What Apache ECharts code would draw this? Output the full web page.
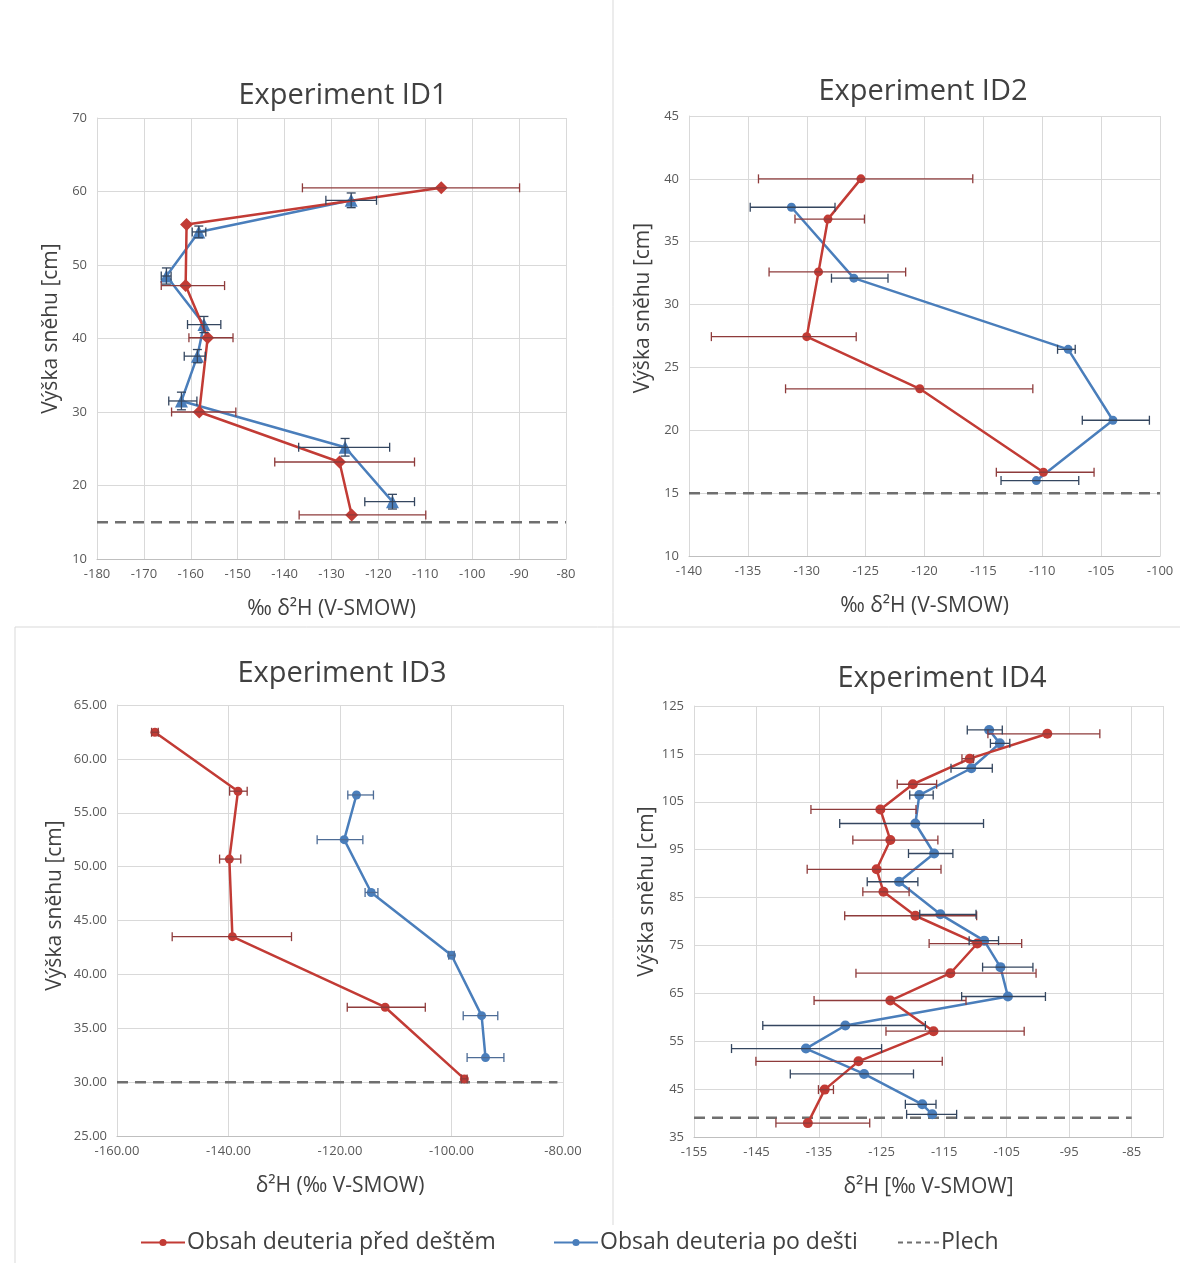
<!DOCTYPE html>
<html><head><meta charset="utf-8">
<script src="https://cdn.jsdelivr.net/npm/echarts@6/dist/echarts.min.js"></script>
<style>html,body{margin:0;padding:0;background:#fff}#c{width:1180px;height:1263px}</style>
</head><body><div id="c"></div><script>
const NAME_BEFORE = 'Obsah deuteria před deštěm';
const NAME_AFTER = 'Obsah deuteria po dešti';
const NAME_PLECH = 'Plech';
const TITLES = ['Experiment ID1', 'Experiment ID2', 'Experiment ID3', 'Experiment ID4'];
const X_NAMES = ['‰ δ²H (V-SMOW)', '‰ δ²H (V-SMOW)', 'δ²H (‰ V-SMOW)', 'δ²H [‰ V-SMOW]'];
const Y_NAME = 'Výška sněhu [cm]';

// Experiment ID1  (error bars given as low / high ends of the bar, null = none)
const id1BeforeX = [-106.6, -160.9, -161.1, -156.4, -158.2, -128.3, -125.7];
const id1BeforeY = [60.5, 55.5, 47.2, 40.1, 30.0, 23.2, 16.0];
const id1BeforeLo = [-136.2, null, -166.3, -160.4, -164.1, -142.1, -136.9];
const id1BeforeHi = [-89.9, null, -152.8, -151.0, -150.4, -112.3, -109.9];
const id1AfterX = [-125.8, -158.3, -165.2, -157.2, -158.6, -162.0, -127.1, -117.0];
const id1AfterY = [58.8, 54.5, 48.5, 41.9, 37.6, 31.5, 25.2, 17.8];
const id1AfterLo = [-131.2, -159.7, -166.3, -160.7, -161.4, -164.7, -137.0, -122.9];
const id1AfterHi = [-120.4, -156.8, -164.2, -153.6, -156.9, -158.7, -117.6, -112.3];
const id1AfterErrY = [1.0, 0.8, 1.1, 1.1, 0.9, 1.2, 1.2, 1.0];
const id1Plech = 15;
const id1XRange = [-180, -80];

// Experiment ID2
const id2BeforeX = [-125.4, -128.2, -129.0, -130.0, -120.4, -109.9];
const id2BeforeY = [40.0, 36.8, 32.6, 27.45, 23.3, 16.66];
const id2BeforeLo = [-134.1, -131.0, -133.2, -138.1, -131.8, -113.9];
const id2BeforeHi = [-115.9, -125.1, -121.6, -125.8, -110.8, -105.6];
const id2AfterX = [-131.3, -126.0, -107.8, -104.0, -110.5];
const id2AfterY = [37.74, 32.1, 26.44, 20.8, 16.0];
const id2AfterLo = [-134.8, -127.9, -108.7, -106.6, -113.5];
const id2AfterHi = [-127.6, -123.1, -107.2, -100.9, -106.9];
const id2Plech = 15;
const id2XRange = [-140, -100];

// Experiment ID3
const id3BeforeX = [-153.2, -138.3, -139.85, -139.3, -111.9, -97.7];
const id3BeforeY = [62.47, 57.0, 50.7, 43.5, 36.95, 30.3];
const id3BeforeLo = [-153.8, -139.8, -141.6, -150.1, -118.7, -98.2];
const id3BeforeHi = [-152.6, -136.65, -137.8, -128.7, -104.7, -97.2];
const id3AfterX = [-117.05, -119.25, -114.4, -100.0, -94.6, -93.9];
const id3AfterY = [56.65, 52.5, 47.6, 41.77, 36.17, 32.28];
const id3AfterLo = [-118.6, -124.1, -115.5, -100.5, -97.9, -97.2];
const id3AfterHi = [-114.0, -115.9, -113.2, -99.5, -91.7, -90.6];
const id3Plech = 30;
const id3XRange = [-160, -81];

// Experiment ID4
const id4BeforeX = [-98.5, -110.9, -120.0, -125.2, -123.6, -125.8, -124.7, -119.6, -109.7, -114.0, -123.6, -116.7, -128.7, -134.1, -136.8];
const id4BeforeY = [119.2, 114.0, 108.66, 103.4, 97.0, 90.9, 86.2, 81.2, 75.4, 69.2, 63.5, 57.1, 50.8, 44.9, 37.9];
const id4BeforeLo = [-108.0, -112.15, -122.5, -136.3, -129.6, -136.9, -128.0, -130.9, -117.4, -129.1, -135.8, -124.3, -145.1, -135.1, -141.9];
const id4BeforeHi = [-90.1, -110.3, -116.2, -119.5, -116.0, -115.5, -120.6, -109.8, -102.6, -100.3, -111.5, -102.2, -115.3, -132.7, -126.9];
const id4AfterX = [-107.8, -106.1, -110.65, -118.97, -119.6, -116.6, -122.2, -115.6, -108.6, -106.0, -104.8, -130.8, -137.1, -127.8, -118.5, -116.9];
const id4AfterY = [120.0, 117.2, 112.0, 106.4, 100.46, 94.2, 88.3, 81.5, 76.0, 70.47, 64.34, 58.28, 53.47, 48.17, 41.83, 39.74];
const id4AfterLo = [-111.3, -107.6, -113.9, -120.5, -131.7, -120.7, -127.3, -118.9, -111.0, -108.85, -112.2, -144.0, -149.0, -139.6, -121.2, -121.0];
const id4AfterHi = [-105.7, -104.5, -107.3, -116.75, -108.7, -113.6, -119.2, -109.9, -106.3, -100.8, -98.8, -118.0, -125.0, -119.9, -116.3, -113.0];
const id4Plech = 39;
const id4XRange = [-155, -85];

// axis scales: [min, max, interval]
const xScales = [[-180, -80, 10], [-140, -100, 5], [-160, -80, 20], [-155, -80, 10]];
const yScales = [[10, 70, 10], [10, 45, 5], [25, 65, 5], [35, 125, 10]];
const labelDecimals = [0, 0, 2, 0];

const RED = '#c23b35', BLUE = '#4a7ebb', RED_ERR = '#8e3b3b', BLUE_ERR = '#34465f', BLUE_ERR3 = '#4d6c96';
const FONT = 'Open Sans';

const grids = [
  {left: 97, top: 118, width: 469, height: 441},
  {left: 689, top: 116, width: 471, height: 440},
  {left: 117, top: 705, width: 446, height: 431},
  {left: 694, top: 706, width: 469, height: 431}
];
const titlePos = [[338, 76], [918, 72], [337, 654], [937, 659]];
const yNameShift = [20, 56, 30, 60];

const zip = (xs, ys) => xs.map((x, i) => [x, ys[i]]);
const zipErr = (xs, ys, lo, hi, ey) => xs.map((x, i) => [x, ys[i], lo[i] == null ? x : lo[i], hi[i] == null ? x : hi[i], ey ? ey[i] : 0]);

function errorBarRender(params, api) {
  const x = api.value(0), y = api.value(1), lo = api.value(2), hi = api.value(3), ey = api.value(4);
  const color = api.visual('color');
  const cap = 4.5;
  const style = {stroke: color, lineWidth: 1.3};
  const ch = [];
  if (hi > lo) {
    const a = api.coord([lo, y]), b = api.coord([hi, y]);
    ch.push({type: 'line', shape: {x1: a[0], y1: a[1], x2: b[0], y2: b[1]}, style});
    ch.push({type: 'line', shape: {x1: a[0], y1: a[1] - cap, x2: a[0], y2: a[1] + cap}, style});
    ch.push({type: 'line', shape: {x1: b[0], y1: b[1] - cap, x2: b[0], y2: b[1] + cap}, style});
  }
  if (ey > 0) {
    const a = api.coord([x, y - ey]), b = api.coord([x, y + ey]);
    ch.push({type: 'line', shape: {x1: a[0], y1: a[1], x2: b[0], y2: b[1]}, style});
    ch.push({type: 'line', shape: {x1: a[0] - cap, y1: a[1], x2: a[0] + cap, y2: a[1]}, style});
    ch.push({type: 'line', shape: {x1: b[0] - cap, y1: b[1], x2: b[0] + cap, y2: b[1]}, style});
  }
  return {type: 'group', children: ch};
}

const panels = [
  {bx: id1BeforeX, by: id1BeforeY, blo: id1BeforeLo, bhi: id1BeforeHi, ax: id1AfterX, ay: id1AfterY, alo: id1AfterLo, ahi: id1AfterHi, aey: id1AfterErrY, plech: id1Plech, pr: id1XRange, bs: 'diamond', as: 'triangle', size: 13, berr: RED_ERR, aerr: BLUE_ERR},
  {bx: id2BeforeX, by: id2BeforeY, blo: id2BeforeLo, bhi: id2BeforeHi, ax: id2AfterX, ay: id2AfterY, alo: id2AfterLo, ahi: id2AfterHi, plech: id2Plech, pr: id2XRange, bs: 'circle', as: 'circle', size: 9, berr: RED_ERR, aerr: BLUE_ERR},
  {bx: id3BeforeX, by: id3BeforeY, blo: id3BeforeLo, bhi: id3BeforeHi, ax: id3AfterX, ay: id3AfterY, alo: id3AfterLo, ahi: id3AfterHi, plech: id3Plech, pr: id3XRange, bs: 'circle', as: 'circle', size: 9, berr: RED_ERR, aerr: BLUE_ERR3},
  {bx: id4BeforeX, by: id4BeforeY, blo: id4BeforeLo, bhi: id4BeforeHi, ax: id4AfterX, ay: id4AfterY, alo: id4AfterLo, ahi: id4AfterHi, plech: id4Plech, pr: id4XRange, bs: 'circle', as: 'circle', size: 10, berr: RED_ERR, aerr: BLUE_ERR}
];

const xAxes = [], yAxes = [], series = [], titles = [];
const order = [1, 2, 3, 0]; // panel 1 last so legend icons show circles
panels.forEach((p, i) => {
  const dec = labelDecimals[i];
  xAxes.push({
    type: 'value', gridIndex: i, min: xScales[i][0], max: xScales[i][1], interval: xScales[i][2],
    name: X_NAMES[i], nameLocation: 'middle', nameGap: 40,
    nameTextStyle: {fontSize: 21, color: '#404040', fontFamily: FONT},
    axisLine: {show: true, onZero: false, lineStyle: {color: '#bfbfbf', width: 1}},
    axisTick: {show: false},
    axisLabel: {color: '#595959', fontSize: 13, fontFamily: FONT, margin: 9, showMaxLabel: i !== 3,
      formatter: v => v.toFixed(dec)},
    splitLine: {show: true, lineStyle: {color: '#d9d9d9', width: 1}}
  });
  yAxes.push({
    type: 'value', gridIndex: i, min: yScales[i][0], max: yScales[i][1], interval: yScales[i][2],
    name: Y_NAME, nameLocation: 'middle', nameGap: dec ? 51 : 35, nameRotate: 90,
    nameTextStyle: {fontSize: 21, color: '#404040', fontFamily: FONT, padding: [0, 0, 0, yNameShift[i]]},
    axisLine: {show: true, onZero: false, lineStyle: {color: '#d9d9d9', width: 1}},
    axisTick: {show: false},
    axisLabel: {color: '#595959', fontSize: 13, fontFamily: FONT, margin: 10,
      formatter: v => v.toFixed(dec)},
    splitLine: {show: true, lineStyle: {color: '#d9d9d9', width: 1}}
  });
  titles.push({text: TITLES[i], left: titlePos[i][0], top: titlePos[i][1], textAlign: 'center',
    textStyle: {fontSize: 29, fontWeight: 'normal', color: '#404040', fontFamily: FONT}});
});

order.forEach(i => {
  const p = panels[i];
  series.push({
    name: NAME_BEFORE, type: 'line', xAxisIndex: i, yAxisIndex: i, data: zip(p.bx, p.by),
    symbol: p.bs, symbolSize: p.size, z: 4,
    lineStyle: {color: RED, width: 2.5}, itemStyle: {color: RED}
  });
  series.push({
    name: NAME_AFTER, type: 'line', xAxisIndex: i, yAxisIndex: i, data: zip(p.ax, p.ay),
    symbol: p.as, symbolSize: p.size, z: 3,
    lineStyle: {color: BLUE, width: 2.5}, itemStyle: {color: BLUE}
  });
  series.push({
    name: NAME_PLECH, type: 'line', xAxisIndex: i, yAxisIndex: i,
    data: [[p.pr[0], p.plech], [p.pr[1], p.plech]], symbol: 'none', z: 2,
    lineStyle: {color: '#6f6f6f', width: 2.5, type: [11, 7]}, itemStyle: {color: '#6f6f6f'}
  });
  series.push({
    name: 'err-before-' + i, type: 'custom', xAxisIndex: i, yAxisIndex: i, z: 5,
    renderItem: errorBarRender, itemStyle: {color: p.berr}, encode: {x: 0, y: 1},
    data: zipErr(p.bx, p.by, p.blo, p.bhi)
  });
  series.push({
    name: 'err-after-' + i, type: 'custom', xAxisIndex: i, yAxisIndex: i, z: 5,
    renderItem: errorBarRender, itemStyle: {color: p.aerr}, encode: {x: 0, y: 1},
    data: zipErr(p.ax, p.ay, p.alo, p.ahi, p.aey)
  });
});

const legendText = {fontSize: 23, color: '#404040', fontFamily: FONT, padding: [0, 0, 0, -3]};
const DASH_ICON = 'path://M0,0h5v2h-5z M9,0h5v2h-5z M18,0h5v2h-5z M27,0h5v2h-5z M36,0h5v2h-5z';

const chart = echarts.init(document.getElementById('c'), null, {renderer: 'canvas'});
chart.setOption({
  backgroundColor: '#ffffff',
  animation: false,
  textStyle: {fontFamily: FONT},
  title: titles,
  grid: grids,
  xAxis: xAxes,
  yAxis: yAxes,
  legend: [
    {top: 1226, left: 135, itemWidth: 44, itemHeight: 9, data: [NAME_BEFORE], textStyle: legendText},
    {top: 1226, left: 548, itemWidth: 44, itemHeight: 9, data: [NAME_AFTER], textStyle: legendText},
    {top: 1226, left: 893, itemWidth: 41, itemHeight: 2, symbolKeepAspect: false,
      data: [{name: NAME_PLECH, icon: DASH_ICON, itemStyle: {color: '#6f6f6f'}}], textStyle: legendText}
  ],
  graphic: [
    {type: 'line', shape: {x1: 613, y1: 0, x2: 613, y2: 1225}, style: {stroke: '#d9d9d9', lineWidth: 1}, silent: true},
    {type: 'line', shape: {x1: 15, y1: 627, x2: 1180, y2: 627}, style: {stroke: '#d9d9d9', lineWidth: 1}, silent: true},
    {type: 'line', shape: {x1: 15, y1: 627, x2: 15, y2: 1263}, style: {stroke: '#d9d9d9', lineWidth: 1}, silent: true}
  ],
  series: series
});
</script></body></html>
